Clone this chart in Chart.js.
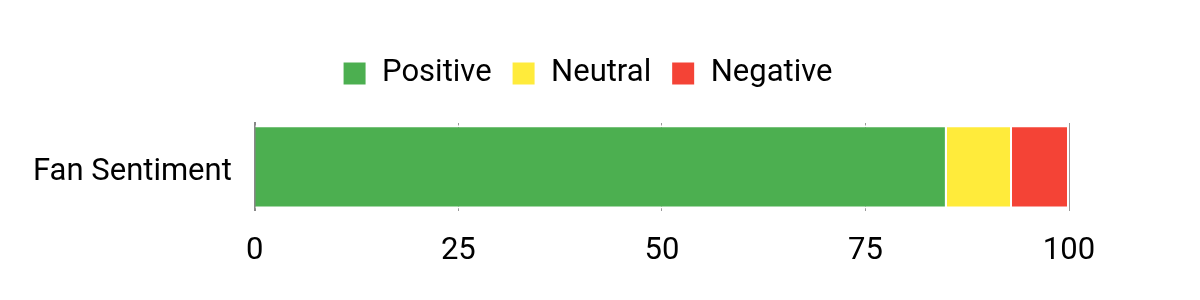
<!DOCTYPE html>
<html>
<head>
<meta charset="utf-8">
<script src="https://cdn.jsdelivr.net/npm/chart.js@4/dist/chart.umd.min.js"></script>
<style>
  html, body { margin:0; padding:0; background:#fff; }
  #wrap { width:1200px; height:300px; }
</style>
</head>
<body>
<div id="wrap"><canvas id="sentChart" width="1200" height="300"></canvas></div>
<script>
/* data */
const categories = ["Fan Sentiment"];
const seriesNames = ["Positive", "Neutral", "Negative"];
const positiveVals = [85];
const neutralVals = [8];
const negativeVals = [7];
const seriesColors = ["#4caf50", "#ffeb3b", "#f44336"];

Chart.defaults.font.family = "Roboto, 'Noto Sans', sans-serif";
Chart.defaults.font.size = 31;
Chart.defaults.color = "#000";

// extra room under the legend, and nudge it right a bit
const legendTweak = {
  id: "legendTweak",
  beforeInit(chart) {
    const fit = chart.legend.fit;
    chart.legend.fit = function() {
      fit.bind(chart.legend)();
      this.height += 24;
    };
  },
  afterLayout(chart) {
    chart.legend.left += 44;
    chart.legend.right += 44;
  }
};

const ctx = document.getElementById("sentChart").getContext("2d");
const sentChart = new Chart(ctx, {
  type: "bar",
  data: {
    labels: categories,
    datasets: [positiveVals, neutralVals, negativeVals].map((vals, i) => ({
      label: seriesNames[i],
      data: vals,
      backgroundColor: seriesColors[i],
      borderColor: "#fff",
      borderWidth: 2,
      barPercentage: 0.95,
      categoryPercentage: 1
    }))
  },
  options: {
    indexAxis: "y",
    responsive: false,
    devicePixelRatio: 1,
    animation: false,
    layout: { padding: { left: 18, right: 131, top: 38, bottom: 8 } },
    scales: {
      x: {
        stacked: true,
        min: 0, max: 100,
        ticks: { stepSize: 25, padding: 22 },
        grid: { color: "#999", drawTicks: false },
        border: { display: false }
      },
      y: {
        stacked: true,
        ticks: { padding: 15, labelOffset: 5 },
        grid: { display: false },
        border: { display: true, color: "#888", width: 2 }
      }
    },
    plugins: {
      legend: {
        position: "top",
        labels: { boxWidth: 24, boxHeight: 24, padding: 20 }
      },
      tooltip: { enabled: false }
    }
  },
  plugins: [legendTweak]
});
</script>
</body>
</html>
